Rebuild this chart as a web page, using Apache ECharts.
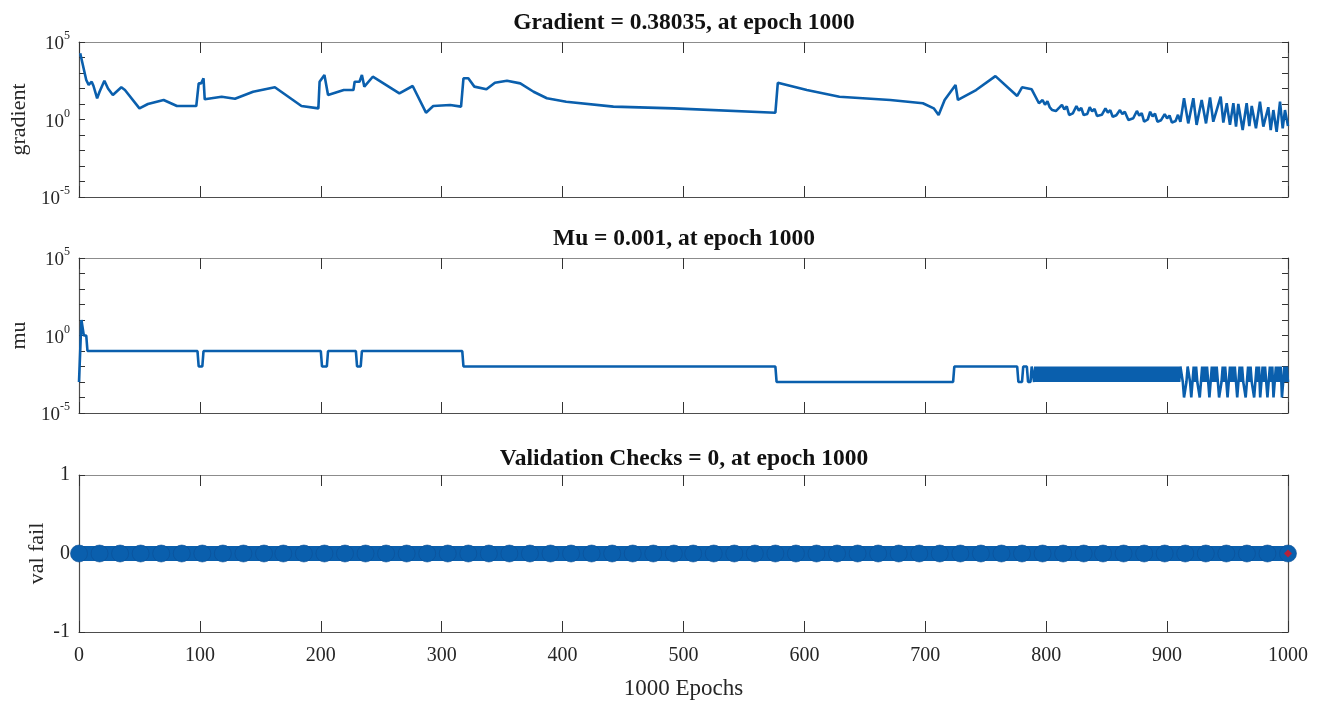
<!DOCTYPE html>
<html><head><meta charset="utf-8">
<script src="https://cdn.jsdelivr.net/npm/echarts@6/dist/echarts.min.js"></script>
<style>html,body{margin:0;padding:0;background:#fff}#c{width:1325px;height:702px}</style>
</head><body><div id="c"></div>
<script>
// ---------- data ----------
const panelTitles = ['Gradient = 0.38035, at epoch 1000', 'Mu = 0.001, at epoch 1000', 'Validation Checks = 0, at epoch 1000'];
const yNames = ['gradient', 'mu', 'val fail'];
const xName = '1000 Epochs';
const xTicks = [0, 100, 200, 300, 400, 500, 600, 700, 800, 900, 1000];
const logTicks = [1e-5, 1e-4, 1e-3, 1e-2, 1e-1, 1, 10, 100, 1e3, 1e4, 1e5];
const logTickLabels = [1e-5, 1, 1e5];
const valTicks = [-1, 0, 1];

const gradEpochs = [1, 6, 8, 10.5, 12, 15, 17, 21, 22, 24, 28, 35, 38, 50, 57, 70, 81, 97, 99, 101, 103, 104, 118, 129, 144, 162, 184, 198, 199, 203, 206, 219, 227, 228, 232, 234, 236, 243, 265, 276, 287, 293, 307, 316, 318, 322, 327, 337, 344, 354, 365, 376, 387, 403, 442, 492, 576, 578, 602, 629, 671, 698, 707, 711, 716, 725, 727, 742, 758, 776, 780, 788, 794,
  797, 799, 801, 803, 805, 808, 811, 813, 815, 817, 819, 822, 825, 827, 829, 831, 834, 836, 838, 840, 842, 846, 849, 851, 853, 855, 858, 861, 863, 865, 868, 872, 875, 877, 879, 881, 884, 886, 888, 890, 892, 895, 898, 900, 902, 904, 907, 909, 911,
  914, 917.5, 921.7, 924.4, 928.6, 932.2, 935.5, 938.2, 944.3, 946.5, 949.3, 952, 954.8, 957, 958.9, 962.5, 965.8, 968, 970, 973.5, 976.8, 979.6, 983.7, 985.7, 987.9, 990.6, 993.4, 995.6, 997.5, 1000];
const gradValues = [18600, 355, 170, 275, 145, 23.4, 61.7, 316, 355, 100, 38, 120, 79.4, 5.25, 10, 18.2, 7.41, 7.41, 214, 214, 457, 20, 29.5, 21.9, 61.7, 120, 7.41, 5.25, 275, 741, 38, 79.4, 79.4, 275, 275, 741, 132, 575, 49, 145, 2.75, 7.41, 8.71, 6.76, 457, 457, 132, 89, 234, 316, 214, 61.7, 23.4, 14.1, 6.76, 5.25, 2.75, 234, 79.4, 29.5, 18.2, 11.2, 5.25, 1.95, 18.2, 170, 18.2, 79.4, 631, 33.1, 120, 89, 11.2,
  18.2, 9.0, 15, 6.0, 4.07, 3.5, 6.0, 8.7, 4.5, 7.0, 1.95, 2.5, 7.4, 3.8, 5.5, 1.95, 2.3, 6.2, 3.3, 4.8, 1.7, 2.0, 5.25, 2.8, 4.0, 1.51, 1.9, 4.07, 2.2, 3.2, 0.93, 1.2, 3.55, 1.8, 2.6, 0.72, 1.0, 3.16, 1.6, 2.4, 0.72, 0.9, 2.24, 1.2, 1.8, 0.63, 0.8, 2.0, 0.7,
  23.4, 0.56, 23.4, 0.45, 18.2, 0.56, 26.9, 0.72, 29.5, 0.63, 11.2, 0.45, 11.2, 0.35, 10, 0.21, 11.2, 0.38, 7.4, 0.27, 14.1, 0.35, 6.2, 0.21, 4.07, 0.16, 14.1, 0.27, 4.07, 0.38035];

const muEpochs = [0, 2, 4, 6, 7, 98, 99, 102, 103, 200, 201, 205, 206, 229, 230, 233, 234, 317, 318, 576, 577, 723, 724, 776, 777, 780, 781, 784, 785, 787, 788, 789];
const muValues = [0.001, 10, 1, 1, 0.1, 0.1, 0.01, 0.01, 0.1, 0.1, 0.01, 0.01, 0.1, 0.1, 0.01, 0.01, 0.1, 0.1, 0.01, 0.01, 0.001, 0.001, 0.01, 0.01, 0.001, 0.001, 0.01, 0.01, 0.001, 0.001, 0.01, 0.01];
// one value per epoch from epoch 790 to 1000
const muTailStart = 790;
const muTail = [
  0.001,0.01,0.001,0.01,0.001,0.01,0.001,0.01,0.001,0.01,
  0.001,0.01,0.001,0.01,0.001,0.01,0.001,0.01,0.001,0.01,
  0.001,0.01,0.001,0.01,0.001,0.01,0.001,0.01,0.001,0.01,
  0.001,0.01,0.001,0.01,0.001,0.01,0.001,0.01,0.001,0.01,
  0.001,0.01,0.001,0.01,0.001,0.01,0.001,0.01,0.001,0.01,
  0.001,0.01,0.001,0.01,0.001,0.01,0.001,0.01,0.001,0.01,
  0.001,0.01,0.001,0.01,0.001,0.01,0.001,0.01,0.001,0.01,
  0.001,0.01,0.001,0.01,0.001,0.01,0.001,0.01,0.001,0.01,
  0.001,0.01,0.001,0.01,0.001,0.01,0.001,0.01,0.001,0.01,
  0.001,0.01,0.001,0.01,0.001,0.01,0.001,0.01,0.001,0.01,
  0.001,0.01,0.001,0.01,0.001,0.01,0.001,0.01,0.001,0.01,
  0.001,0.01,0.001,0.01,0.001,0.01,0.001,0.01,0.001,0.01,
  0.001,0.01,
  0.01,0.001,0.0001,0.0001,0.001,0.01,0.01,0.001,0.0001,0.001,
  0.01,0.001,0.01,0.001,0.001,0.0001,0.001,0.01,0.001,0.01,
  0.001,0.01,0.001,0.0001,0.001,0.01,0.001,0.01,0.001,0.01,
  0.001,0.0001,0.0001,0.001,0.01,0.001,0.01,0.001,0.0001,0.001,
  0.01,0.001,0.01,0.001,0.01,0.001,0.0001,0.001,0.01,0.001,
  0.01,0.001,0.001,0.0001,0.001,0.01,0.001,0.01,0.001,0.001,
  0.0001,0.001,0.01,0.001,0.01,0.0001,0.001,0.01,0.001,0.01,
  0.001,0.0001,0.001,0.01,0.001,0.01,0.0001,0.001,0.01,0.001,
  0.01,0.001,0.01,0.0001,0.001,0.01,0.001,0.01,0.001
];

const valEpochs = [0,17,34,51,68,85,102,119,136,153,169,186,203,220,237,254,271,288,305,322,339,356,373,390,407,424,441,458,475,492,508,525,542,559,576,593,610,627,644,661,678,695,712,729,746,763,780,797,814,831,847,864,881,898,915,932,949,966,983,1000];
const valValues = [0,0,0,0,0,0,0,0,0,0,0,0,0,0,0,0,0,0,0,0,0,0,0,0,0,0,0,0,0,0,0,0,0,0,0,0,0,0,0,0,0,0,0,0,0,0,0,0,0,0,0,0,0,0,0,0,0,0,0,0];
const bestEpoch = 1000, bestVal = 0;

// ---------- chart ----------
const BLUE = '#0A5FAD';
const FONT = 'Liberation Serif';
const TXT = '#262626';
const grids = [
  {left: 79, right: 37, top: 42, height: 155, containLabel: false, outerBoundsMode: 'none'},
  {left: 79, right: 37, top: 258, height: 155, containLabel: false, outerBoundsMode: 'none'},
  {left: 79, right: 37, top: 475, height: 157, containLabel: false, outerBoundsMode: 'none'}
];
const titleTops = [6, 222, 442];

const zip = (a, b) => a.map((x, i) => [x, b[i]]);
const muData = zip(muEpochs, muValues).concat(muTail.map((v, i) => [muTailStart + i, v]));

const xAxes = [], yAxes = [];
grids.forEach((g, i) => {
  const xBase = {
    type: 'value', gridIndex: i, min: xTicks[0], max: xTicks[xTicks.length - 1], interval: 100,
    splitLine: {show: false},
    axisTick: {inside: true, length: 11, lineStyle: {color: '#333', width: 1}}
  };
  xAxes.push(Object.assign({}, xBase, {
    position: 'bottom',
    axisLine: {show: true, onZero: false, lineStyle: {color: '#4d4d4d', width: 1.2}},
    axisLabel: {show: i === 2, color: TXT, fontFamily: FONT, fontSize: 20, margin: 14, formatter: v => String(v)},
    name: i === 2 ? xName : '', nameLocation: 'middle', nameGap: 45, nameMoveOverlap: false,
    nameTextStyle: {color: TXT, fontFamily: FONT, fontSize: 23}
  }));
  xAxes.push(Object.assign({}, xBase, {
    position: 'top',
    axisLine: {show: true, onZero: false, lineStyle: {color: '#8c8c8c', width: 1.2}},
    axisLabel: {show: false}
  }));
  const isLog = i < 2;
  const yBase = isLog ? {
    type: 'log', logBase: 10, min: logTicks[0], max: logTicks[logTicks.length - 1]
  } : {
    type: 'value', min: valTicks[0], max: valTicks[2], interval: 1
  };
  Object.assign(yBase, {
    gridIndex: i, splitLine: {show: false},
    axisTick: {inside: true, length: 6, lineStyle: {color: '#333', width: 1}}
  });
  if (isLog) yBase.axisTick.customValues = logTicks;
  yAxes.push(Object.assign({}, yBase, {
    position: 'left',
    axisLine: {show: true, onZero: false, lineStyle: {color: '#4d4d4d', width: 1.2}},
    axisLabel: isLog ? {
      margin: 9, color: TXT, customValues: logTickLabels,
      formatter: v => '{b|10}{s|' + Math.round(Math.log10(v)) + '}',
      rich: {
        b: {fontFamily: FONT, fontSize: 19, color: TXT, lineHeight: 24, verticalAlign: 'bottom'},
        s: {fontFamily: FONT, fontSize: 12, color: TXT, verticalAlign: 'top', lineHeight: 12}
      }
    } : {margin: 9, color: TXT, fontFamily: FONT, fontSize: 20},
    name: yNames[i], nameLocation: 'middle', nameRotate: 90, nameGap: isLog ? 49 : 31,
    nameMoveOverlap: false,
    nameTextStyle: {color: TXT, fontFamily: FONT, fontSize: 22}
  }));
  yAxes.push(Object.assign({}, yBase, {
    position: 'right',
    axisLine: {show: true, onZero: false, lineStyle: {color: '#4d4d4d', width: 1.2}},
    axisLabel: {show: false}
  }));
});

const option = {
  animation: false,
  backgroundColor: '#fff',
  title: panelTitles.map((t, i) => ({
    text: t, left: 679, top: titleTops[i], textAlign: 'center',
    textStyle: {fontFamily: FONT, fontWeight: 'bold', fontSize: 23.5, color: '#111'}
  })),
  grid: grids,
  xAxis: xAxes,
  yAxis: yAxes,
  series: [
    {type: 'line', xAxisIndex: 0, yAxisIndex: 0, data: zip(gradEpochs, gradValues), showSymbol: false,
     lineStyle: {color: BLUE, width: 2.6}, itemStyle: {color: BLUE}},
    {type: 'line', xAxisIndex: 2, yAxisIndex: 2, data: muData, showSymbol: false,
     lineStyle: {color: BLUE, width: 2.6}, itemStyle: {color: BLUE}},
    {type: 'line', xAxisIndex: 4, yAxisIndex: 4, data: zip(valEpochs, valValues),
     symbol: 'circle', symbolSize: 17, showAllSymbol: true,
     lineStyle: {color: BLUE, width: 15},
     itemStyle: {color: BLUE, borderColor: '#0b4f95', borderWidth: 0.6}},
    {type: 'scatter', xAxisIndex: 4, yAxisIndex: 4, data: [[bestEpoch, bestVal]],
     symbol: 'diamond', symbolSize: 8, itemStyle: {color: '#e0141e'}, z: 5}
  ]
};
echarts.init(document.getElementById('c'), null, {renderer: 'canvas'}).setOption(option);
</script>
</body></html>
